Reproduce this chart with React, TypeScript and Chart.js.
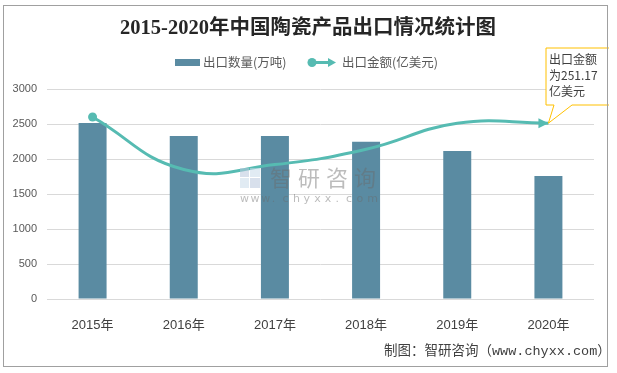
import React, { useEffect, useRef } from "react";
import { Chart, registerables } from "chart.js";

Chart.register(...registerables);

const categories = ["2015年", "2016年", "2017年", "2018年", "2019年", "2020年"];
const exportVolume = [2514, 2330, 2330, 2245, 2115, 1757];
const exportValue = [260.0, 185.0, 192.0, 214.0, 251.0, 251.17];
const yTicks = [0, 500, 1000, 1500, 2000, 2500, 3000];

const TITLE = "2015-2020年中国陶瓷产品出口情况统计图";
const LEGEND_BAR = "出口数量(万吨)";
const LEGEND_LINE = "出口金额(亿美元)";
const CALLOUT = ["出口金额", "为251.17", "亿美元"];
const FOOTER = "制图：智研咨询（www.chyxx.com）";

const BAR_COLOR = "#5a8ba2";
const LINE_COLOR = "#56bbb2";
const CJK = "'Noto Sans CJK SC', 'Noto Sans', sans-serif";

function arrowHead(ctx: CanvasRenderingContext2D, fx: number, fy: number, tx: number, ty: number, len: number, wid: number) {
  const a = Math.atan2(ty - fy, tx - fx);
  ctx.beginPath();
  ctx.moveTo(tx, ty);
  ctx.lineTo(tx - len * Math.cos(a) + wid * Math.sin(a), ty - len * Math.sin(a) - wid * Math.cos(a));
  ctx.lineTo(tx - len * Math.cos(a) - wid * Math.sin(a), ty - len * Math.sin(a) + wid * Math.cos(a));
  ctx.closePath();
  ctx.fill();
}

const decorPlugin = {
  id: "decor",
  afterDraw(chart: any) {
    const ctx: CanvasRenderingContext2D = chart.ctx;
    ctx.save();
    // watermark
    ctx.globalAlpha = 0.55;
    ctx.fillStyle = "#b8c6dc";
    ctx.fillRect(240, 168, 9, 9);
    ctx.fillStyle = "#c9dbe9";
    ctx.fillRect(250, 168, 10, 9);
    ctx.fillRect(240, 178, 9, 10);
    ctx.fillStyle = "#b8c6dc";
    ctx.fillRect(250, 178, 10, 10);
    ctx.globalAlpha = 0.45;
    ctx.fillStyle = "#6b6b6b";
    ctx.font = `22px ${CJK}`;
    ctx.textBaseline = "middle";
    ctx.textAlign = "left";
    const wm = "智研咨询";
    for (let i = 0; i < wm.length; i++) ctx.fillText(wm[i], 270 + i * 28, 178);
    ctx.font = "11px 'DejaVu Sans'";
    const site = "www.chyxx.com";
    for (let i = 0; i < site.length; i++) ctx.fillText(site[i], 240 + i * 10.6, 199);
    ctx.restore();

    ctx.save();
    // title
    ctx.fillStyle = "#262626";
    ctx.font = `bold 20.5px 'Liberation Serif', 'Noto Sans CJK SC', serif`;
    ctx.textAlign = "center";
    ctx.textBaseline = "middle";
    ctx.fillText(TITLE, 308, 29);

    // legend
    ctx.fillStyle = BAR_COLOR;
    ctx.fillRect(175, 59, 25, 7);
    ctx.fillStyle = "#595959";
    ctx.font = `12.5px ${CJK}`;
    ctx.textAlign = "left";
    ctx.fillText(LEGEND_BAR, 203, 62.5);
    ctx.strokeStyle = LINE_COLOR;
    ctx.fillStyle = LINE_COLOR;
    ctx.lineWidth = 3;
    ctx.beginPath();
    ctx.moveTo(312, 62.5);
    ctx.lineTo(330, 62.5);
    ctx.stroke();
    ctx.beginPath();
    ctx.arc(312, 62.5, 4.5, 0, Math.PI * 2);
    ctx.fill();
    arrowHead(ctx, 312, 62.5, 336, 62.5, 8, 4.5);
    ctx.fillStyle = "#595959";
    ctx.fillText(LEGEND_LINE, 342, 62.5);

    // arrow at end of line series
    const meta = chart.getDatasetMeta(1);
    const pts = meta.data;
    const last = pts[pts.length - 1];
    const fromX = last.cp1x !== undefined ? last.cp1x : pts[pts.length - 2].x;
    const fromY = last.cp1y !== undefined ? last.cp1y : pts[pts.length - 2].y;
    ctx.fillStyle = LINE_COLOR;
    arrowHead(ctx, fromX, fromY, last.x, last.y, 10, 5);

    // callout
    const bx = 546, by = 48, bw = 66, bh = 57;
    ctx.beginPath();
    ctx.moveTo(bx, by);
    ctx.lineTo(bx + bw, by);
    ctx.lineTo(bx + bw, by + bh);
    ctx.lineTo(572, by + bh);
    ctx.lineTo(last.x, last.y);
    ctx.lineTo(554, by + bh);
    ctx.lineTo(bx, by + bh);
    ctx.closePath();
    ctx.fillStyle = "#ffffff";
    ctx.fill();
    ctx.strokeStyle = "#ffc000";
    ctx.lineWidth = 1;
    ctx.stroke();
    ctx.fillStyle = "#404040";
    ctx.font = `12px ${CJK}`;
    ctx.textAlign = "left";
    ctx.fillText(CALLOUT[0], 549, 59);
    ctx.fillText(CALLOUT[1], 549, 75);
    ctx.fillText(CALLOUT[2], 549, 91);

    // footer
    ctx.fillStyle = "#404040";
    ctx.font = `13.5px 'Liberation Mono', 'Noto Sans CJK SC', monospace`;
    ctx.fillText(FOOTER, 384, 351);

    // outer border
    ctx.strokeStyle = "#a0a0a0";
    ctx.lineWidth = 1;
    ctx.strokeRect(3.5, 5.5, 604, 361);
    ctx.fillStyle = "#ffffff";
    ctx.fillRect(609, 0, 8, 373);
    ctx.restore();
  },
};

export default function App() {
  const ref = useRef<HTMLCanvasElement | null>(null);
  useEffect(() => {
    if (!ref.current) return;
    const chart = new Chart(ref.current, {
      type: "bar",
      data: {
        labels: categories,
        datasets: [
          {
            type: "bar",
            label: LEGEND_BAR,
            data: exportVolume,
            backgroundColor: BAR_COLOR,
            categoryPercentage: 1,
            barPercentage: 0.307,
            yAxisID: "y",
            order: 2,
          },
          {
            type: "line",
            label: LEGEND_LINE,
            data: exportValue,
            borderColor: LINE_COLOR,
            backgroundColor: LINE_COLOR,
            borderWidth: 3,
            tension: 0.45,
            pointRadius: [4.5, 0, 0, 0, 0, 0],
            pointBackgroundColor: LINE_COLOR,
            pointBorderWidth: 0,
            yAxisID: "y1",
            order: 1,
          } as any,
        ],
      },
      options: {
        animation: false,
        responsive: false,
        layout: { padding: { left: 0, right: 23, top: 89, bottom: 0 } },
        plugins: { legend: { display: false }, title: { display: false }, tooltip: { enabled: false } },
        scales: {
          x: {
            grid: { display: false },
            border: { display: false },
            ticks: { color: "#404040", font: { size: 13, family: "'Liberation Sans', 'Noto Sans CJK SC', sans-serif" }, padding: 11 },
            afterFit: (s: any) => { s.height = 74; },
          },
          y: {
            min: 0,
            max: 3000,
            afterBuildTicks: (s: any) => { s.ticks = yTicks.map((v) => ({ value: v })); },
            grid: { color: "#d9d9d9", drawTicks: false },
            border: { display: false },
            ticks: {
              color: "#595959",
              font: { size: 11, family: "'Liberation Sans', sans-serif" },
              padding: 10,
              callback: (v: any) => String(v),
            },
            afterFit: (s: any) => { s.width = 47; },
          },
          y1: { display: false, min: 0, max: 300 },
        },
      },
      plugins: [decorPlugin],
    });
    return () => chart.destroy();
  }, []);
  return (
    <div style={{ position: "fixed", left: 0, top: 0, width: 617, height: 373, background: "#fff" }}>
      <canvas ref={ref} width={617} height={373} style={{ width: 617, height: 373 }} />
    </div>
  );
}
